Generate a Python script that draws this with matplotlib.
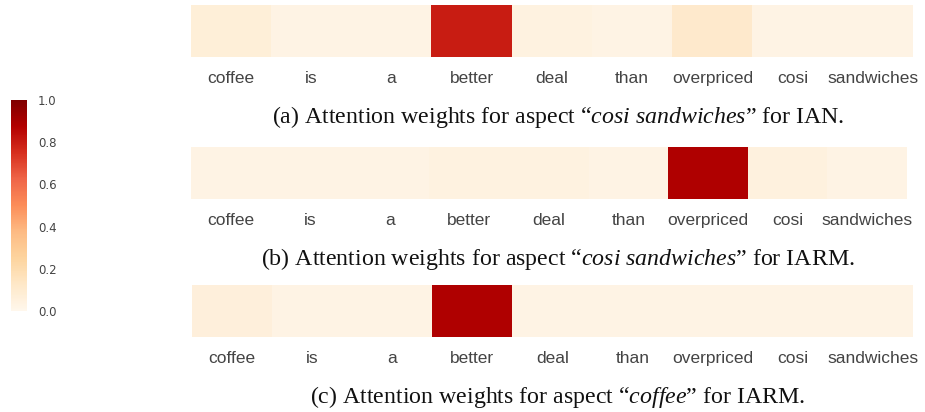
import numpy as np
import matplotlib
matplotlib.use("Agg")
import matplotlib.pyplot as plt

# words in the sentence
words = ["coffee", "is", "a", "better", "deal", "than", "overpriced", "cosi", "sandwiches"]

# attention weights
ian_cosi = [0.07, 0.03, 0.03, 0.80, 0.04, 0.03, 0.11, 0.03, 0.03]
iarm_cosi = [0.03, 0.03, 0.03, 0.04, 0.04, 0.03, 0.88, 0.05, 0.03]
iarm_coffee = [0.06, 0.03, 0.03, 0.88, 0.03, 0.03, 0.03, 0.03, 0.03]

captions = [
    r"(a) Attention weights for aspect “$\mathit{cosi\ sandwiches}$” for IAN.",
    r"(b) Attention weights for aspect “$\mathit{cosi\ sandwiches}$” for IARM.",
    r"(c) Attention weights for aspect “$\mathit{coffee”}$ for IARM.",
]

plt.rcParams['mathtext.fontset'] = 'custom'
plt.rcParams['mathtext.rm'] = 'Liberation Serif'
plt.rcParams['mathtext.it'] = 'Liberation Serif:italic'

W, H = 925, 412
fig = plt.figure(figsize=(W / 100, H / 100), dpi=100)

# (left, top, right, bottom) in pixels for each heatmap
boxes = [(191, 5, 913, 57), (191, 147, 907, 199), (192, 285, 913, 337)]
caption_y = [117, 259, 397]
series = [ian_cosi, iarm_cosi, iarm_coffee]

im = None
for vals, (l, t, r, b), cap, cy in zip(series, boxes, captions, caption_y):
    ax = fig.add_axes([l / W, 1 - b / H, (r - l) / W, (b - t) / H])
    im = ax.imshow(np.array(vals)[None, :], cmap='OrRd', vmin=0, vmax=1, aspect='auto')
    ax.set_xticks(range(len(words)))
    ax.set_xticklabels(words, fontsize=12.5, color='#444444', family='Liberation Sans')
    ax.set_yticks([])
    ax.tick_params(axis='x', length=0, pad=10)
    for s in ax.spines.values():
        s.set_visible(False)
    fig.text(558 / W, 1 - cy / H, cap, ha='center', va='center',
             fontsize=17.2, family='Liberation Serif', color='#111111')

cax = fig.add_axes([11 / W, 1 - 311 / H, 16 / W, 211 / H])
cb = fig.colorbar(im, cax=cax)
cb.outline.set_visible(False)
cb.set_ticks([0, 0.2, 0.4, 0.6, 0.8, 1.0])
cb.ax.tick_params(length=0, labelsize=8.5, labelcolor='#444444', pad=8)

fig.savefig("out.png", dpi=100)
